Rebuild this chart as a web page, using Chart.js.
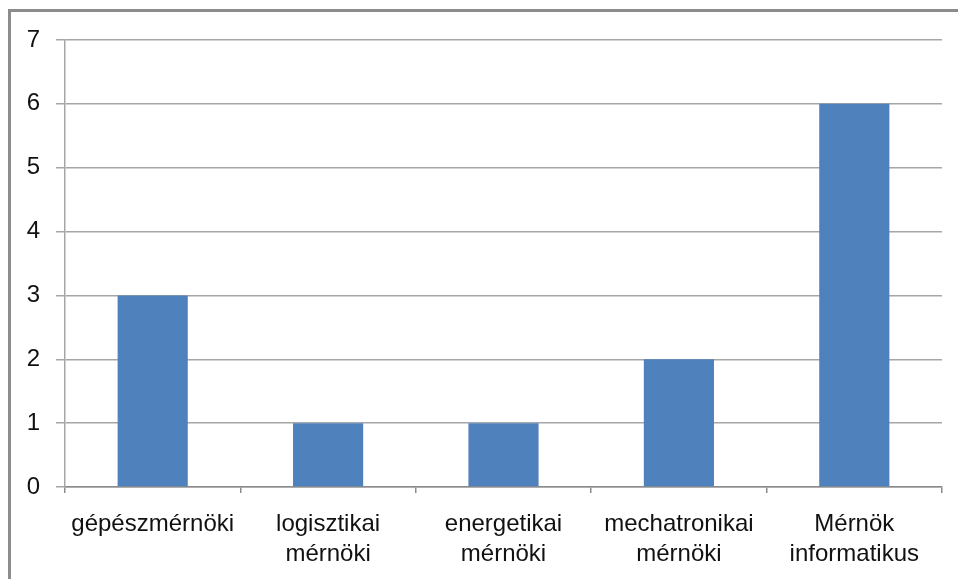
<!DOCTYPE html>
<html><head><meta charset="utf-8">
<script src="https://cdn.jsdelivr.net/npm/chart.js@4/dist/chart.umd.min.js"></script>
<style>
html,body{margin:0;padding:0;background:#fff;}
#wrap{position:relative;width:958px;height:579px;overflow:hidden;}
#frame{position:absolute;left:8px;top:9px;width:960px;height:600px;border-top:3px solid #8c8c8c;border-left:3px solid #8c8c8c;box-sizing:border-box;}
canvas{position:absolute;left:0;top:0;}
</style></head>
<body><div id="wrap"><div id="frame"></div><canvas id="c" width="958" height="579"></canvas></div>
<script>
const categories = [["gépészmérnöki"], ["logisztikai","mérnöki"], ["energetikai","mérnöki"], ["mechatronikai","mérnöki"], ["Mérnök","informatikus"]];
const values = [3, 1, 1, 2, 6];
const yTicks = [0,1,2,3,4,5,6,7];

new Chart(document.getElementById('c'), {
  type: 'bar',
  data: { labels: categories, datasets: [{ data: values, backgroundColor: '#4F81BD', borderWidth: 0, barPercentage: 0.4, categoryPercentage: 1.0 }] },
  options: {
    responsive: false, animation: false,
    layout: { padding: { top: 40, right: 16, left: 0, bottom: 0 } },
    plugins: { legend: { display: false }, tooltip: { enabled: false } },
    scales: {
      x: {
        offset: true,
        grid: { offset: true, drawOnChartArea: false, drawTicks: true, tickLength: 6, color: '#8c8c8c', lineWidth: 1.5 },
        border: { display: true, color: '#8c8c8c', width: 1.5 },
        ticks: { color: '#111', font: { family: 'Liberation Sans', size: 24, lineHeight: 1.25 }, padding: 16, maxRotation: 0, autoSkip: false },
        afterFit: s => { s.height = 92; }
      },
      y: {
        min: 0, max: 7,
        afterBuildTicks: s => { s.ticks = yTicks.map(v => ({ value: v })); },
        grid: { color: '#a6a6a6', lineWidth: 1.5, tickLength: 9 },
        border: { display: true, color: '#a6a6a6', width: 1.5 },
        ticks: { color: '#111', font: { family: 'Liberation Sans', size: 24 }, padding: 16 },
        afterFit: s => { s.width = 65; }
      }
    }
  }
});
</script></body></html>
